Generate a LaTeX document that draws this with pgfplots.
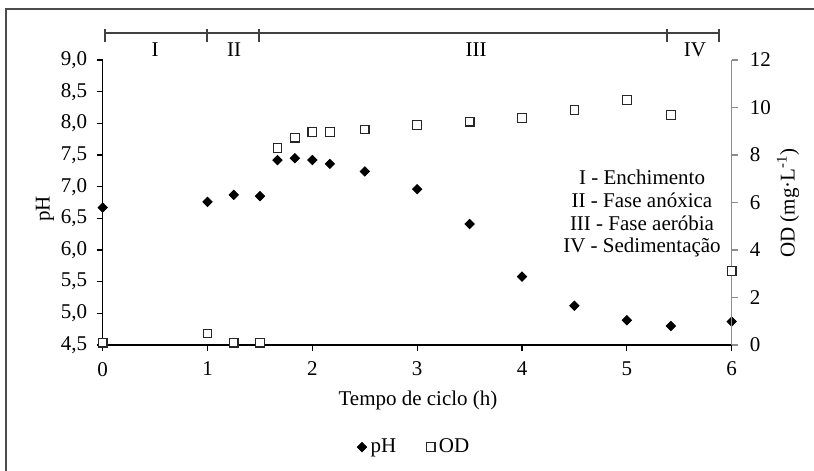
\documentclass[border=0pt]{standalone}
\usepackage{pgfplots}
\pgfplotsset{compat=1.18}
\usepackage{fontspec}
\setmainfont{Liberation Serif}

\pgfplotstableread{
x ph
0 6.67
1 6.76
1.25 6.87
1.5 6.85
1.667 7.42
1.833 7.45
2 7.42
2.167 7.36
2.5 7.24
3 6.96
3.5 6.41
4 5.58
4.5 5.12
5 4.89
5.42 4.80
6 4.87
}\phdata

\pgfplotstableread{
x od
0 0.1
1 0.48
1.25 0.1
1.5 0.1
1.667 8.29
1.833 8.73
2 8.97
2.167 8.97
2.5 9.07
3 9.26
3.5 9.40
4 9.55
4.5 9.89
5 10.32
5.42 9.68
6 3.12
}\oddata

\begin{document}
\begin{tikzpicture}[font=\fontsize{10.5}{12.6}\selectfont]
\useasboundingbox (0,0) rectangle (407pt,235.5pt);
% outer frame
\draw[black!70, line width=0.8pt] (3pt,-5pt) -- (3pt,231pt) -- (412pt,231pt);

\pgfplotsset{
  common/.style={
    scale only axis, width=314.5pt, height=142.5pt,
    at={(51.35pt,63pt)}, anchor=south west,
    xmin=0, xmax=6, clip=false,
    tick align=outside, major tick length=3pt,
    /pgf/number format/assume math mode=true,
    legend image code/.code={\draw[##1, only marks] plot coordinates {(0pt,0pt)};},
  },
  phstyle/.style={only marks, mark=square*, mark size=1.65pt,
    mark options={rotate=45, fill=black, draw=black}},
  odstyle/.style={only marks, mark=square*, mark size=2.15pt,
    mark options={draw=black!85, fill=white, line width=0.6pt}},
}

\begin{axis}[common,
  axis x line*=bottom, axis y line*=left,
  ymin=4.5, ymax=9,
  xtick={0,1,2,3,4,5,6},
  ytick={4.5,5,5.5,6,6.5,7,7.5,8,8.5,9},
  yticklabel style={xshift=-1.2pt, /pgf/number format/.cd, use comma, fixed, fixed zerofill, precision=1},
  xticklabel style={yshift=-2pt},
  axis line style={black, line width=0.6pt},
  tick style={black, line width=0.6pt},
]
\addplot[phstyle] table[x=x,y=ph] {\phdata};
\end{axis}

\begin{axis}[common,
  axis x line=none, axis y line*=right,
  ymin=0, ymax=12,
  ytick={0,2,4,6,8,10,12},
  yticklabel style={xshift=2.5pt},
  y axis line style={black!45, line width=0.6pt},
  ytick style={black!45, line width=0.6pt},
  legend columns=2,
  legend style={draw=none, fill=none, at={(0.497,-0.358)}, anchor=center,
    /tikz/every even column/.append style={column sep=13pt}},
]
\addlegendimage{phstyle}
\addlegendentry{pH}
\addplot[odstyle] table[x=x,y=od] {\oddata};
\addlegendentry{OD}
\end{axis}

% axis titles
\node[rotate=90] at (22.5pt,131pt) {pH};
\node[rotate=90] at (394pt,134pt) {OD (mg·L\textsuperscript{-1})};
\node at (209pt,35.5pt) {Tempo de ciclo (h)};

% phase legend
\node[align=center, font=\fontsize{10.5}{11.3}\selectfont] at (321pt,128.6pt)
  {I - Enchimento\\II - Fase anóxica\\III - Fase aeróbia\\IV - Sedimentação};

% phase bar
\draw[black!75, line width=0.8pt] (52.5pt,219pt) -- (359.5pt,219pt);
\foreach \xx in {52.5,103.5,129.5,333.5,359.5}
  \draw[black!75, line width=0.8pt] (\xx pt,221pt) -- (\xx pt,214.5pt);
\node at (77.5pt,210.5pt) {I};
\node at (117pt,210.5pt) {II};
\node at (238pt,210.5pt) {III};
\node at (347.5pt,210.5pt) {IV};
\end{tikzpicture}
\end{document}
